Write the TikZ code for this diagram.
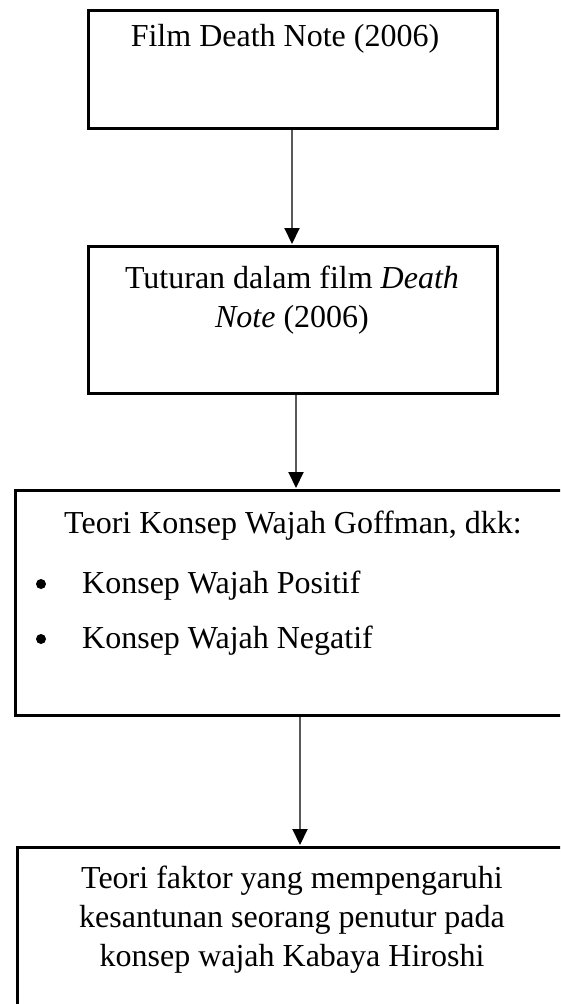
\documentclass[tikz,border=0pt]{standalone}
\usepackage{fontspec}
\setmainfont{Liberation Serif}
\usetikzlibrary{arrows.meta}
\tikzset{
  box/.style={draw=black, line width=3pt, inner sep=0pt, anchor=north west},
  txt/.style={inner sep=0pt, font=\fontsize{32pt}{38pt}\selectfont, align=center},
  dot/.style={circle, fill=black, inner sep=0pt, minimum size=10pt},
  arr/.style={draw=black!65, line width=2pt, -{Triangle[length=16pt,width=15pt,fill=black,color=black]}, shorten >=1pt}
}
\begin{document}
\begin{tikzpicture}[x=1pt,y=1pt]
\useasboundingbox (0,0) rectangle (560,-1004);
\clip (0,0) rectangle (560,-1004);
% boxes
\node[box, minimum width=409pt, minimum height=118pt] (b1) at (87,-9) {};
\node[box, minimum width=409pt, minimum height=147pt] (b2) at (87,-245) {};
\node[box, minimum width=560pt, minimum height=225pt] (b3) at (14,-489) {};
\node[box, minimum width=560pt, minimum height=200pt] (b4) at (16,-846) {};
% texts
\node[txt] (t1) at (285,-39) {Film Death Note (2006)};
\node[txt, anchor=base] (t2a) at (292,-288) {Tuturan dalam film \textit{Death}};
\node[txt, anchor=base] (t2b) at (292,-327) {\textit{Note} (2006)};
\node[txt, anchor=base] (t3) at (293,-533) {Teori Konsep Wajah Goffman, dkk:};
\node[dot] (bu1) at (41,-584) {};
\node[txt, anchor=base west] (t3a) at (82,-593) {Konsep Wajah Positif};
\node[dot] (bu2) at (41,-639) {};
\node[txt, anchor=base west] (t3b) at (82,-648) {Konsep Wajah Negatif};
\node[txt, anchor=base] (t4a) at (292,-888) {Teori faktor yang mempengaruhi};
\node[txt, anchor=base] (t4b) at (292,-927) {kesantunan seorang penutur pada};
\node[txt, anchor=base] (t4c) at (292,-966) {konsep wajah Kabaya Hiroshi};
% connectors
\coordinate (c1) at (292,0);
\coordinate (c2) at (296,0);
\coordinate (c3) at (300,0);
\draw[arr] (b1.south -| c1) -- (b2.north -| c1);
\draw[arr] (b2.south -| c2) -- (b3.north -| c2);
\draw[arr] (b3.south -| c3) -- (b4.north -| c3);
\end{tikzpicture}
\end{document}
